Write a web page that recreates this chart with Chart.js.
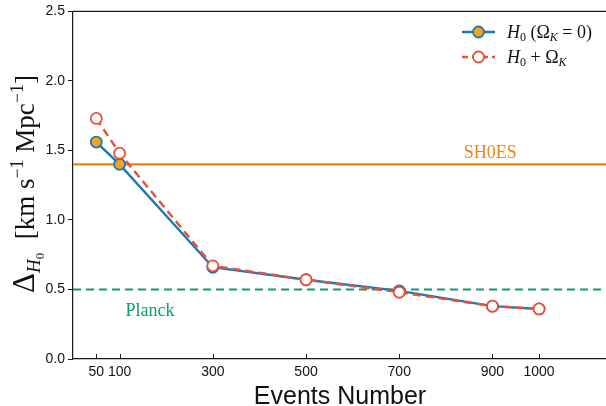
<!DOCTYPE html>
<html>
<head>
<meta charset="utf-8">
<script src="https://cdn.jsdelivr.net/npm/chart.js@4.4.0/dist/chart.umd.min.js"></script>
<style>
  html, body { margin: 0; padding: 0; background: #fff; overflow: hidden; }
  #wrap { position: relative; width: 630px; height: 406px; }
</style>
</head>
<body>
<div id="wrap"><canvas id="c" width="630" height="406"></canvas></div>
<script>
// ---- data ----
const eventsNumber = [50, 100, 300, 500, 700, 900, 1000];
const deltaH0Flat = [1.56, 1.40, 0.66, 0.57, 0.49, 0.38, 0.36];
const deltaH0Curved = [1.73, 1.48, 0.67, 0.57, 0.48, 0.38, 0.36];
const xTickValues = [50, 100, 300, 500, 700, 900, 1000];
const yTickValues = [0.0, 0.5, 1.0, 1.5, 2.0, 2.5];
const shoesLevel = 1.4;
const planckLevel = 0.5;
const xRange = [0, 1150];
const yRange = [0, 2.5];

const BLUE = '#1f77b4';
const MARKER_ORANGE = '#f2a51a';
const RED = '#e8503a';
const SHOES_ORANGE = '#f5820d';
const PLANCK_GREEN = '#0c9a72';
const SERIF = '"Liberation Serif", "DejaVu Serif", serif';
const SANS = '"Liberation Sans", Arial, sans-serif';

function drawRich(ctx, x, y, parts) {
  let cx = x;
  for (const p of parts) {
    const [t, size, italic, dy] = p;
    ctx.font = (italic ? 'italic ' : '') + size + 'px ' + SERIF;
    ctx.fillText(t, cx, y + (dy || 0));
    cx += ctx.measureText(t).width;
  }
  return cx - x;
}
function richWidth(ctx, parts) {
  let w = 0;
  for (const p of parts) {
    const [t, size, italic] = p;
    ctx.font = (italic ? 'italic ' : '') + size + 'px ' + SERIF;
    w += ctx.measureText(t).width;
  }
  return w;
}

const decorPlugin = {
  id: 'decor',
  beforeDatasetsDraw(chart) {
    const ctx = chart.ctx, a = chart.chartArea, ys = chart.scales.y;
    ctx.save();
    ctx.beginPath();
    ctx.rect(a.left, a.top, a.right - a.left, a.bottom - a.top);
    ctx.clip();
    let py = ys.getPixelForValue(shoesLevel);
    ctx.strokeStyle = SHOES_ORANGE; ctx.lineWidth = 2.2; ctx.setLineDash([]);
    ctx.beginPath(); ctx.moveTo(a.left, py); ctx.lineTo(a.right, py); ctx.stroke();
    py = ys.getPixelForValue(planckLevel);
    ctx.strokeStyle = PLANCK_GREEN; ctx.setLineDash([8, 5]);
    ctx.beginPath(); ctx.moveTo(a.left, py); ctx.lineTo(a.right, py); ctx.stroke();
    ctx.restore();
  },
  afterDraw(chart) {
    const ctx = chart.ctx, a = chart.chartArea, xs = chart.scales.x, ys = chart.scales.y;
    ctx.save();
    ctx.strokeStyle = '#1a1a1a'; ctx.lineWidth = 1.2; ctx.setLineDash([]);
    ctx.beginPath(); ctx.moveTo(a.left, a.top); ctx.lineTo(a.right, a.top); ctx.stroke();
    ctx.lineWidth = 1;
    for (const v of xTickValues) {
      const px = Math.round(xs.getPixelForValue(v)) + 0.5;
      ctx.beginPath(); ctx.moveTo(px, a.bottom); ctx.lineTo(px, a.bottom - 5); ctx.stroke();
    }
    ctx.fillStyle = SHOES_ORANGE;
    ctx.font = '18px ' + SERIF;
    ctx.textAlign = 'center'; ctx.textBaseline = 'alphabetic';
    ctx.fillText('SH0ES', xs.getPixelForValue(895), ys.getPixelForValue(shoesLevel) - 6);
    ctx.fillStyle = PLANCK_GREEN;
    ctx.fillText('Planck', xs.getPixelForValue(165), ys.getPixelForValue(planckLevel) + 27);
    ctx.fillStyle = '#111';
    ctx.font = '25px ' + SANS;
    ctx.fillText('Events Number', 340, 404);
    ctx.textAlign = 'left';
    const yParts = [
      ['\u0394', 31, false, 0],
      ['H', 19, true, 6],
      ['0', 13, false, 10],
      ['  [km s', 27, false, 0],
      ['\u22121', 18, false, -11],
      [' Mpc', 27, false, 0],
      ['\u22121', 18, false, -11],
      [']', 27, false, 0]
    ];
    const w = richWidth(ctx, yParts);
    ctx.translate(34, 184);
    ctx.rotate(-Math.PI / 2);
    drawRich(ctx, -w / 2, 0, yParts);
    ctx.restore();

    // legend
    ctx.save();
    ctx.textAlign = 'left';
    const lx0 = 462, lx1 = 495, lmx = 478.5;
    let ly = 32;
    ctx.strokeStyle = BLUE; ctx.lineWidth = 2.4; ctx.setLineDash([]);
    ctx.beginPath(); ctx.moveTo(lx0, ly); ctx.lineTo(lx1, ly); ctx.stroke();
    ctx.beginPath(); ctx.arc(lmx, ly, 5.5, 0, Math.PI * 2);
    ctx.fillStyle = MARKER_ORANGE; ctx.fill(); ctx.lineWidth = 1.8; ctx.stroke();
    ctx.fillStyle = '#111';
    drawRich(ctx, 507, ly + 6, [
      ['H', 18, true, 0], ['0', 12, false, 3], [' (\u03A9', 18, false, 0],
      ['K', 12, true, 3], [' = 0)', 18, false, 0]
    ]);
    ly = 57;
    ctx.strokeStyle = RED; ctx.lineWidth = 2.4; ctx.setLineDash([6, 4]);
    ctx.beginPath(); ctx.moveTo(lx0, ly); ctx.lineTo(lx1, ly); ctx.stroke();
    ctx.setLineDash([]);
    ctx.beginPath(); ctx.arc(lmx, ly, 5.5, 0, Math.PI * 2);
    ctx.fillStyle = '#fff'; ctx.fill(); ctx.lineWidth = 1.8; ctx.stroke();
    ctx.fillStyle = '#111';
    drawRich(ctx, 507, ly + 6, [
      ['H', 18, true, 0], ['0', 12, false, 3], [' + \u03A9', 18, false, 0],
      ['K', 12, true, 3]
    ]);
    ctx.restore();
  }
};

const flatData = eventsNumber.map((x, i) => ({ x, y: deltaH0Flat[i] }));
const curvedData = eventsNumber.map((x, i) => ({ x, y: deltaH0Curved[i] }));

new Chart(document.getElementById('c'), {
  type: 'line',
  data: {
    datasets: [
      {
        label: 'H0 (ΩK = 0)',
        data: flatData,
        order: 1,
        borderColor: BLUE,
        borderWidth: 2.4,
        backgroundColor: MARKER_ORANGE,
        pointBackgroundColor: MARKER_ORANGE,
        pointBorderColor: BLUE,
        pointBorderWidth: 1.8,
        pointRadius: 5.5,
        tension: 0,
        fill: false
      },
      {
        label: 'H0 + ΩK',
        data: curvedData,
        order: 0,
        borderColor: RED,
        borderWidth: 2.4,
        borderDash: [8, 5],
        backgroundColor: '#fff',
        pointBackgroundColor: '#fff',
        pointBorderColor: RED,
        pointBorderWidth: 1.8,
        pointRadius: 5.5,
        tension: 0,
        fill: false
      }
    ]
  },
  options: {
    responsive: false,
    animation: false,
    devicePixelRatio: 1,
    layout: { padding: { left: 0, top: 10, right: 21, bottom: 0 } },
    plugins: { legend: { display: false }, tooltip: { enabled: false } },
    scales: {
      x: {
        type: 'linear',
        min: xRange[0], max: xRange[1],
        afterBuildTicks(scale) { scale.ticks = xTickValues.map(v => ({ value: v })); },
        afterFit(scale) { scale.height = 47; },
        grid: { display: false, drawTicks: false },
        border: { display: true, color: '#1a1a1a', width: 1.2 },
        ticks: {
          autoSkip: false, maxRotation: 0, padding: 5,
          color: '#111', font: { family: SANS, size: 14 },
          callback: v => String(v)
        }
      },
      y: {
        type: 'linear',
        min: yRange[0], max: yRange[1],
        afterBuildTicks(scale) { scale.ticks = yTickValues.map(v => ({ value: v })); },
        afterFit(scale) { scale.width = 73; },
        grid: { drawOnChartArea: false, drawTicks: true, tickLength: 5, color: '#1a1a1a' },
        border: { display: true, color: '#1a1a1a', width: 1.2 },
        ticks: {
          padding: 3, color: '#111', font: { family: SANS, size: 14 },
          callback: v => v.toFixed(1)
        }
      }
    }
  },
  plugins: [decorPlugin]
});
</script>
</body>
</html>
